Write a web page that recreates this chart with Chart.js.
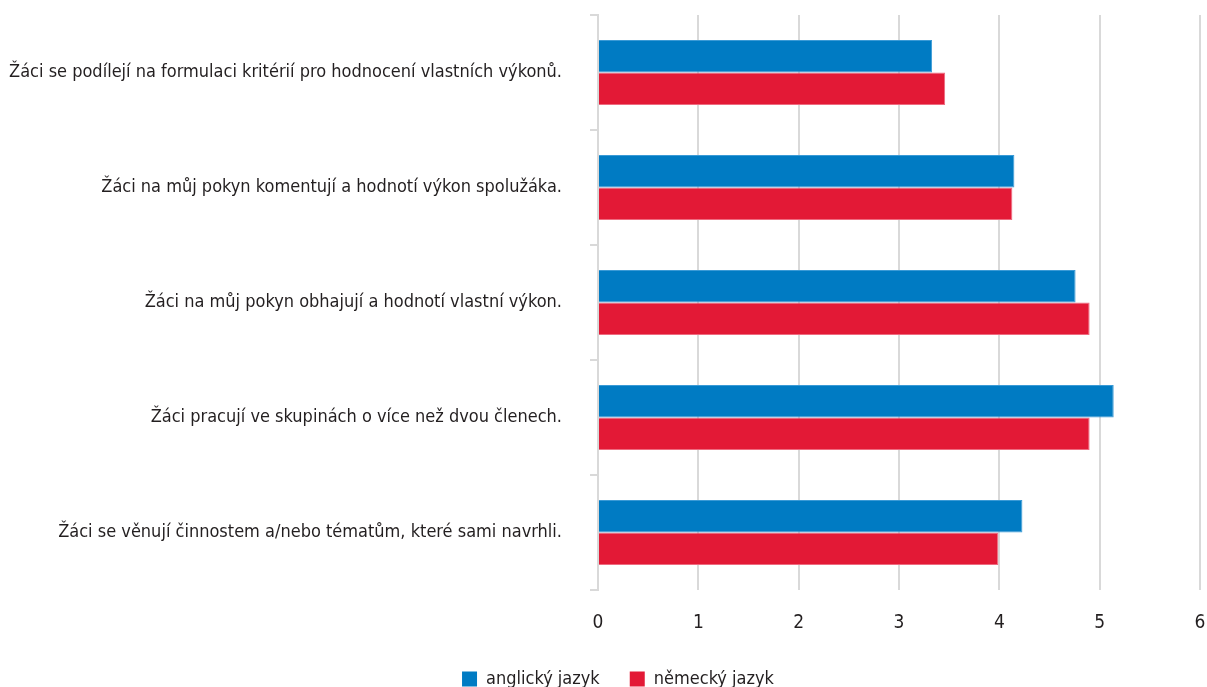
<!DOCTYPE html>
<html>
<head>
<meta charset="utf-8">
<script src="https://cdn.jsdelivr.net/npm/chart.js@4/dist/chart.umd.min.js"></script>
<style>
  html, body { margin: 0; padding: 0; background: #fff; }
  #wrap { width: 1207px; height: 687px; }
</style>
</head>
<body>
<div id="wrap"><canvas id="c" width="1207" height="687"></canvas></div>
<script>
const categories = [
  'Žáci se podílejí na formulaci kritérií pro hodnocení vlastních výkonů.',
  'Žáci na můj pokyn komentují a hodnotí výkon spolužáka.',
  'Žáci na můj pokyn obhajují a hodnotí vlastní výkon.',
  'Žáci pracují ve skupinách o více než dvou členech.',
  'Žáci se věnují činnostem a/nebo tématům, které sami navrhli.'
];
const englishValues = [3.33, 4.15, 4.76, 5.14, 4.23];
const germanValues = [3.46, 4.13, 4.90, 4.90, 3.99];
const xTicks = [0, 1, 2, 3, 4, 5, 6];

const FONT = "'Liberation Sans Narrow', 'DejaVu Sans Condensed', 'Roboto Condensed', sans-serif";
const GRID = '#d9d9d9';
const TEXT = '#231f20';

// nudge the legend a bit right, like in the source picture
const legendShift = {
  id: 'legendShift',
  afterLayout(chart) {
    if (chart.legend) {
      chart.legend.left += 18;
      chart.legend.right += 18;
    }
  }
};

new Chart(document.getElementById('c'), {
  type: 'bar',
  data: {
    labels: categories,
    datasets: [
      { label: 'anglický jazyk', data: englishValues, backgroundColor: '#007bc3', borderColor: '#3a9ad6', borderWidth: 1 },
      { label: 'německý jazyk', data: germanValues, backgroundColor: '#e31936', borderColor: '#ee6b80', borderWidth: 1 }
    ]
  },
  options: {
    indexAxis: 'y',
    responsive: false,
    animation: false,
    devicePixelRatio: 1,
    categoryPercentage: 0.565,
    barPercentage: 1,
    layout: { padding: { top: 15, right: 7, left: 0, bottom: -11 } },
    plugins: {
      legend: {
        position: 'bottom',
        labels: {
          font: { family: FONT, size: 18 },
          color: TEXT,
          boxWidth: 15,
          boxHeight: 15,
          padding: 30,
          generateLabels: (chart) => chart.data.datasets.map((ds, i) => ({
            text: ds.label,
            fillStyle: ds.backgroundColor,
            strokeStyle: ds.backgroundColor,
            lineWidth: 0,
            fontColor: TEXT,
            datasetIndex: i
          }))
        }
      },
      tooltip: { enabled: false }
    },
    scales: {
      x: {
        min: 0,
        max: 6,
        afterBuildTicks: (scale) => { scale.ticks = xTicks.map(v => ({ value: v })); },
        afterFit: (scale) => { scale.height = 50; scale.paddingLeft = 0; scale.paddingRight = 0; },
        grid: { color: GRID, lineWidth: 2, drawTicks: false },
        border: { display: false },
        ticks: { font: { family: FONT, size: 19 }, color: TEXT, padding: 22 }
      },
      y: {
        afterFit: (scale) => { scale.width = 598; scale.paddingTop = 0; scale.paddingBottom = 0; },
        grid: { offset: true, drawOnChartArea: false, color: GRID, lineWidth: 2, tickLength: 8 },
        border: { color: GRID, width: 2 },
        ticks: { font: { family: FONT, size: 18 }, color: TEXT, padding: 28, autoSkip: false }
      }
    }
  },
  plugins: [legendShift]
});
</script>
</body>
</html>
